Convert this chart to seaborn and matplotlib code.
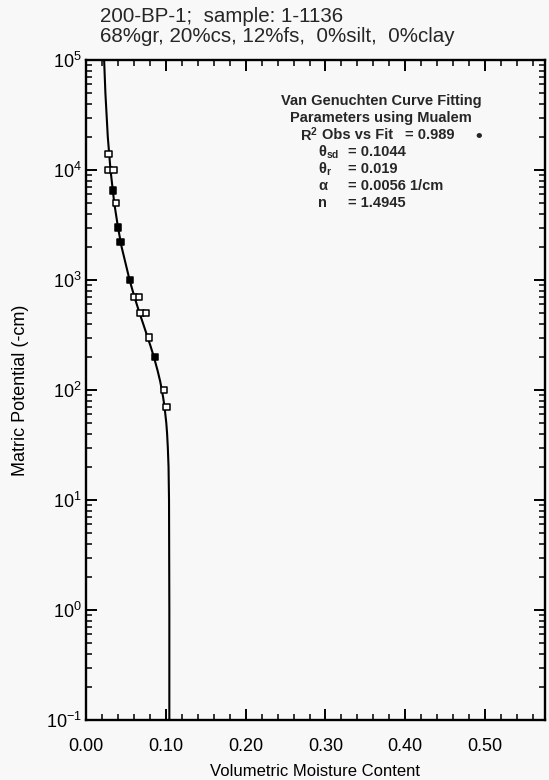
import numpy as np
import pandas as pd
import matplotlib
matplotlib.use("Agg")
import matplotlib.pyplot as plt
from matplotlib.ticker import LogLocator, MultipleLocator, FormatStrFormatter, NullFormatter
import seaborn as sns

# ---- data ----
title_line1 = "200-BP-1;  sample: 1-1136"
title_line2 = "68%gr, 20%cs, 12%fs,  0%silt,  0%clay"

# fitted van Genuchten curve (suction in -cm, moisture content)
curve_h = [0.1, 1, 10, 20, 30, 40, 50, 70, 85, 100, 120, 150, 200, 250, 300,
           400, 500, 700, 1000, 2000, 3000, 5000, 10000, 20000, 50000, 100000]
curve_theta = [0.1044, 0.1044, 0.1040, 0.1034, 0.1025, 0.1016, 0.1006, 0.0984,
               0.0967, 0.0950, 0.0929, 0.0897, 0.0850, 0.0809, 0.0773, 0.0716,
               0.0671, 0.0607, 0.0546, 0.0446, 0.0401, 0.0354, 0.0307, 0.0273,
               0.0243, 0.0227]

# observed points
obs_h = [14000, 10000, 10000, 6500, 5000, 3000, 2200, 1000, 700, 700, 500,
         500, 300, 200, 100, 70]
obs_theta = [0.0281, 0.0282, 0.0345, 0.0338, 0.0379, 0.0405, 0.0431, 0.0554,
             0.0603, 0.0666, 0.0684, 0.0747, 0.0794, 0.0862, 0.0980, 0.1009]
obs_kind = ["open", "open", "open", "filled", "open", "filled", "filled",
            "filled", "open", "open", "open", "open", "open", "filled", "open",
            "open"]

param_lines = [(r"$\mathbf{\theta_{sd}}$", "= 0.1044"),
               (r"$\mathbf{\theta_{r}}$", "= 0.019"),
               (r"$\mathbf{\alpha}$", "= 0.0056 1/cm"),
               ("n", "= 1.4945")]
box_line1 = "Van Genuchten Curve Fitting"
box_line2 = "Parameters using Mualem"
box_r2_a = r"R$^\mathbf{2}$"
box_r2_b = "Obs vs Fit"
box_r2_c = "= 0.989"

# ---- style ----
sns.set_theme(style="ticks")
plt.rcParams["font.family"] = ["Liberation Sans", "DejaVu Sans"]
plt.rcParams["mathtext.fontset"] = "custom"
plt.rcParams["mathtext.rm"] = "Liberation Sans"
plt.rcParams["mathtext.it"] = "Liberation Sans:italic"
plt.rcParams["mathtext.bf"] = "Liberation Sans:bold"
plt.rcParams["mathtext.sf"] = "Liberation Sans"
plt.rcParams["mathtext.default"] = "regular"

bg = "#f8f8f8"
fig = plt.figure(figsize=(5.49, 7.80), dpi=100, facecolor=bg)
ax = fig.add_axes([86 / 549, 60 / 780, (545 - 86) / 549, (720 - 60) / 780])
ax.set_facecolor(bg)

curve_df = pd.DataFrame({"theta": curve_theta, "h": curve_h})
obs_df = pd.DataFrame({"theta": obs_theta, "h": obs_h, "kind": obs_kind})

sns.lineplot(data=curve_df, x="theta", y="h", sort=False, estimator=None,
             color="black", linewidth=1.5, ax=ax)
sns.scatterplot(data=obs_df, x="theta", y="h", hue="kind",
                palette={"open": "white", "filled": "black"},
                marker="s", s=20, edgecolor="black", linewidth=1.1,
                legend=False, ax=ax, zorder=3)

ax.set_yscale("log")
ax.set_ylim(0.1, 1e5)
ax.set_xlim(0.0, 0.575)

ax.yaxis.set_major_locator(LogLocator(base=10, numticks=100))
ax.yaxis.set_minor_locator(LogLocator(base=10, subs=np.arange(2, 10), numticks=100))
ax.yaxis.set_minor_formatter(NullFormatter())
ax.xaxis.set_major_locator(MultipleLocator(0.1))
ax.xaxis.set_minor_locator(MultipleLocator(0.02))
ax.xaxis.set_major_formatter(FormatStrFormatter("%.2f"))

for s in ax.spines.values():
    s.set_linewidth(1.7)
    s.set_color("black")

ax.tick_params(which="both", direction="in", top=True, right=True,
               colors="black", labelsize=13)
ax.tick_params(which="major", length=8, width=1.4)
ax.tick_params(which="minor", length=4.5, width=1.1)
ax.tick_params(axis="x", which="major", pad=13)
ax.tick_params(axis="y", which="major", pad=3)

ax.set_xlabel("Volumetric Moisture Content", fontsize=12, color="black")
ax.set_ylabel("Matric Potential (-cm)", fontsize=13, color="black")
ax.xaxis.set_label_coords(0.5, -0.066)
ax.yaxis.set_label_coords(-0.125, 0.5)

fig.text(100 / 549, 1 - 16 / 780, title_line1, fontsize=14.8, va="center", ha="left")
fig.text(100 / 549, 1 - 36 / 780, title_line2, fontsize=14.8, va="center", ha="left")

def ax_xy(px, py):
    return (px - 86) / 459, (720 - py) / 660

fs = 10.5
kw = dict(transform=ax.transAxes, va="center", fontsize=fs, fontweight="bold")
x, y = ax_xy(381, 101)
ax.text(x, y, box_line1, ha="center", **kw)
x, y = ax_xy(381, 118)
ax.text(x, y, box_line2, ha="center", **kw)
x, y = ax_xy(300, 135)
ax.text(x, y, box_r2_a, ha="left", **kw)
x, _ = ax_xy(322, 0)
ax.text(x, y, box_r2_b, ha="left", **kw)
x, _ = ax_xy(405, 0)
ax.text(x, y, box_r2_c, ha="left", **kw)
x, y = ax_xy(479, 137)
ax.text(x, y, "\u2022", ha="center", **{**kw, "fontsize": fs + 3})

for i, (sym, val) in enumerate(param_lines):
    x, y = ax_xy(318, 152 + 17 * i)
    ax.text(x, y, sym, ha="left", **kw)
    x2, _ = ax_xy(348, 0)
    ax.text(x2, y, val, ha="left", **kw)

fig.savefig("out.png", dpi=100, facecolor=bg)
